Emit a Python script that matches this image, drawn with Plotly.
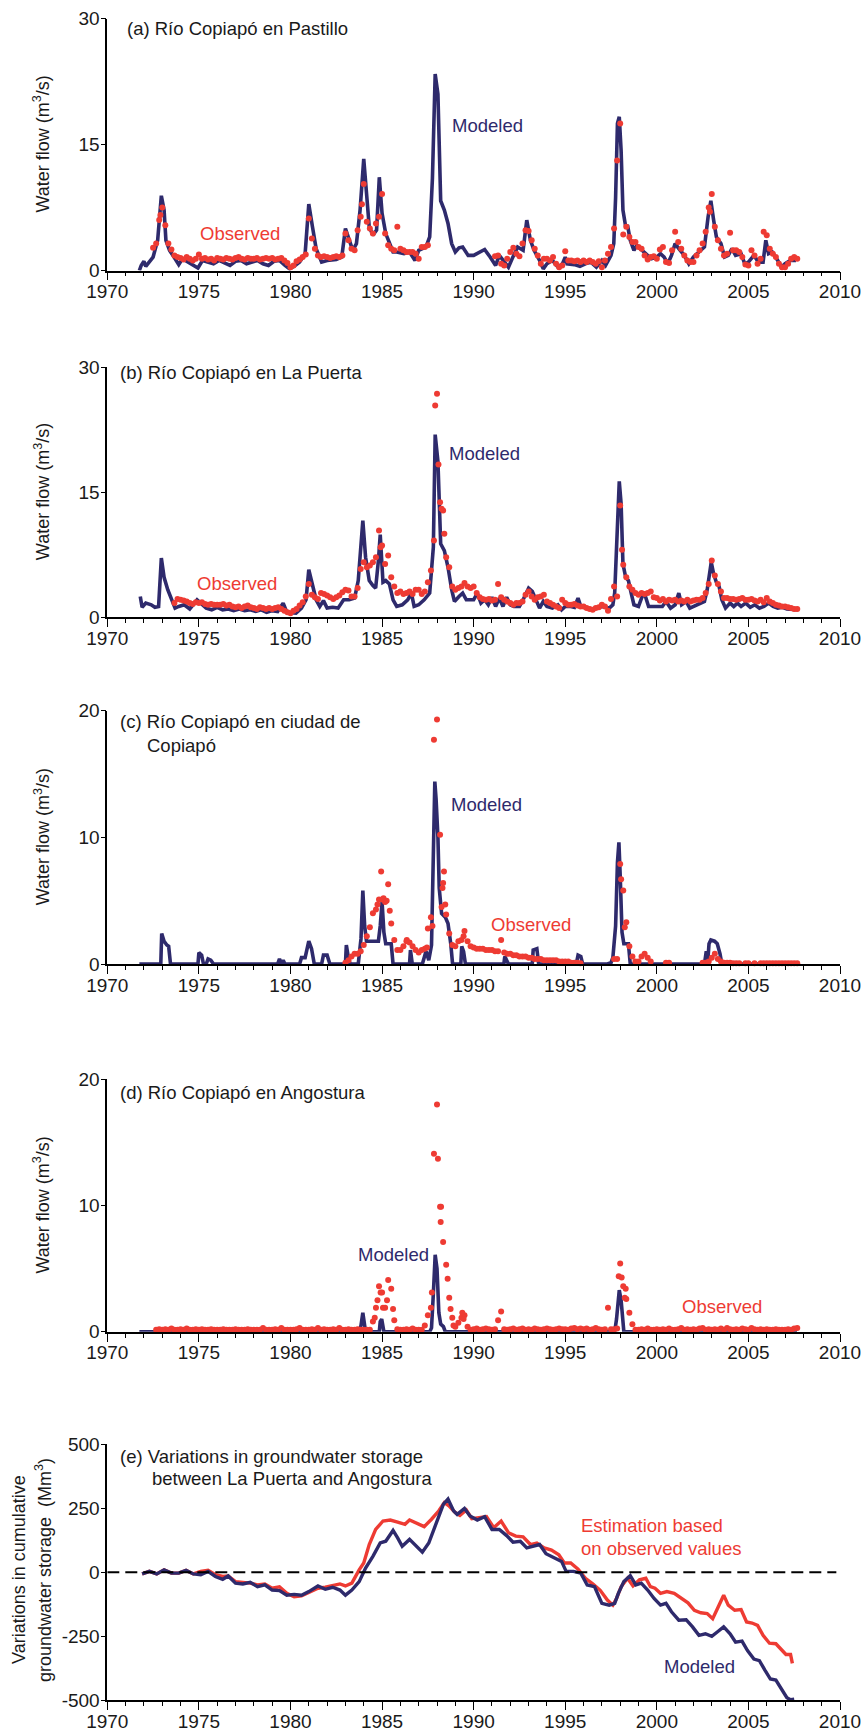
import plotly.graph_objects as go

W, H = 866, 1733
NAVY = "#2e2a6c"
RED = "#ee3b33"
FONT = "Liberation Sans, Arial, sans-serif"

# ---------------- Panel (a) Pastillo ----------------
mod_a_x = [1971.75, 1971.85, 1972.0, 1972.1, 1972.5, 1972.75, 1972.95, 1973.1, 1973.2, 1973.4, 1973.7, 1973.9,
           1974.1, 1974.4, 1974.7, 1974.95, 1975.2, 1975.5, 1975.8, 1976.1, 1976.4, 1976.7, 1977.0, 1977.3,
           1977.6, 1977.9, 1978.2, 1978.5, 1978.8, 1979.1, 1979.4, 1979.7, 1979.95, 1980.2, 1980.5, 1980.8,
           1981.0, 1981.2, 1981.4, 1981.7, 1982.0, 1982.5, 1982.8, 1983.0, 1983.2, 1983.4, 1983.6, 1983.8,
           1984.0, 1984.15, 1984.3, 1984.5, 1984.7, 1984.85, 1985.0, 1985.2, 1985.4, 1985.6, 1985.8, 1986.2,
           1986.5, 1986.8, 1987.0, 1987.4, 1987.6, 1987.75, 1987.9, 1988.05, 1988.2, 1988.4, 1988.6, 1988.8,
           1989.0, 1989.2, 1989.4, 1989.7, 1990.0, 1990.3, 1990.6, 1990.9, 1991.2, 1991.4, 1991.6, 1991.9,
           1992.1, 1992.4, 1992.7, 1992.9, 1993.1, 1993.3, 1993.6, 1993.8, 1994.0, 1994.3, 1994.6, 1994.85,
           1995.0, 1995.1, 1995.5, 1995.8, 1996.1, 1996.4, 1996.7, 1997.0, 1997.2, 1997.5, 1997.65, 1997.75,
           1997.85, 1997.95, 1998.05, 1998.15, 1998.3, 1998.4, 1998.55, 1998.75, 1998.9, 1999.1, 1999.4, 1999.7,
           2000.0, 2000.2, 2000.4, 2000.6, 2000.8, 2001.0, 2001.2, 2001.5, 2001.75, 2002.0, 2002.3, 2002.6,
           2002.8, 2002.95, 2003.1, 2003.25, 2003.5, 2003.7, 2003.9, 2004.1, 2004.3, 2004.6, 2004.8, 2005.0,
           2005.3, 2005.55, 2005.8, 2005.95, 2006.1, 2006.3, 2006.6, 2006.8, 2007.0, 2007.3, 2007.6]
mod_a_y = [0.0, 0.6, 1.1, 0.5, 1.6, 3.6, 8.9, 7.2, 3.6, 2.4, 1.4, 0.7,
           1.4, 1.0, 0.7, 0.3, 1.2, 1.0, 0.8, 1.2, 0.9, 0.6, 1.1, 1.2,
           0.8, 1.0, 1.2, 0.8, 0.6, 1.1, 1.2, 0.6, 0.2, 0.5, 1.0, 2.0,
           7.9, 5.2, 2.6, 1.0, 1.2, 1.3, 1.6, 5.0, 3.6, 2.4, 3.2, 7.2,
           13.3, 8.7, 5.2, 4.2, 4.8, 11.1, 6.8, 4.4, 3.2, 2.2, 2.2, 2.0,
           2.2, 1.2, 2.4, 2.8, 4.0, 11.0, 23.4, 21.0, 8.3, 7.2, 5.6, 3.2,
           2.2, 2.7, 2.8, 1.8, 1.8, 2.2, 2.5, 1.6, 0.6, 1.8, 1.2, 0.4,
           1.4, 2.8, 2.4, 6.0, 3.6, 2.4, 1.2, 0.2, 0.8, 1.2, 0.4, 0.8,
           1.6, 0.8, 0.7, 0.5, 0.8, 1.0, 0.4, 1.2, 0.6, 1.8, 3.2, 8.7,
           17.5, 18.3, 14.3, 7.2, 5.2, 5.4, 3.6, 2.4, 3.0, 2.6, 2.0, 1.4,
           1.6, 2.0, 1.6, 0.8, 1.8, 3.2, 2.6, 1.8, 0.8, 1.6, 2.2, 2.8,
           6.4, 8.3, 6.0, 4.0, 3.2, 1.6, 1.8, 2.6, 1.8, 2.0, 0.8, 1.0,
           1.8, 1.0, 1.0, 3.6, 2.0, 2.2, 1.2, 0.4, 0.8, 1.2, 1.2]

# observed, bimonthly from 1972.0 (6 values per year)
obs_a = [
    None, None, None, 2.7, 3.2, 6.0,    # 1972
    7.5, 5.4, 3.2, 2.5, 1.8, 1.6,       # 1973
    1.5, 1.3, 1.6, 1.4, 1.2, 1.4,       # 1974
    1.9, 1.4, 1.5, 1.3, 1.4, 1.2,       # 1975
    1.5, 1.4, 1.3, 1.5, 1.4, 1.3,       # 1976
    1.5, 1.6, 1.4, 1.3, 1.5, 1.4,       # 1977
    1.4, 1.5, 1.3, 1.4, 1.5, 1.4,       # 1978
    1.5, 1.3, 1.4, 1.5, 1.2, 0.9,       # 1979
    0.4, 0.6, 1.1, 1.3, 1.6, 1.9,       # 1980
    6.2, 3.8, 2.6, 1.8, 1.6, 1.7,       # 1981
    1.6, 1.5, 1.6, 1.7, 1.6, 1.8,       # 1982
    4.4, 3.6, 2.6, 2.4, 4.8, 6.4,       # 1983
    10.3, 5.8, 5.0, 4.4, 5.6, 6.4,      # 1984
    9.1, 4.4, 3.0, 2.6, 2.4, 5.2,       # 1985
    2.6, 2.4, 2.2, 2.2, 2.2, 2.0,       # 1986
    1.4, 2.8, 2.8, 3.0, None, None,     # 1987
    None, None, None, None, None, None, # 1988
    None, None, None, None, None, None, # 1989
    None, None, None, None, None, None, # 1990
    None, 1.7, 1.8, 0.8, 0.6, 1.4,      # 1991
    2.2, 2.7, 2.0, 1.7, 3.2, 4.8,       # 1992
    4.7, 3.6, 2.6, 1.8, 0.8, 1.4,       # 1993
    1.4, 1.2, 1.6, 0.8, 0.4, 0.6,       # 1994
    2.3, 1.2, 1.2, 1.1, 1.2, 1.0,       # 1995
    1.2, 1.0, 1.2, 1.0, 0.8, 1.1,       # 1996
    0.4, 1.2, 2.0, 2.8, 5.0, 13.1,      # 1997
    17.5, 4.3, 5.2, 4.0, 3.4, 3.4,      # 1998
    2.8, 2.6, 1.8, 1.3, 1.6, 1.7,       # 1999
    1.4, 2.5, 2.8, 1.0, 0.9, 2.4,       # 2000
    4.6, 3.4, 2.6, 1.8, 1.2, 1.0,       # 2001
    1.0, 1.8, 2.4, 3.2, 4.6, 7.5,       # 2002
    9.1, 5.2, 3.6, 2.6, 1.8, 2.0,       # 2003
    4.5, 2.4, 2.4, 2.2, 1.6, 0.7,       # 2004
    0.6, 2.4, 1.8, 0.8, 1.4, 4.6,       # 2005
    4.2, 2.6, 2.0, 1.6, 0.8, 0.4,       # 2006
    0.4, 0.8, 1.4, 1.6, 1.4, None,      # 2007
]
obs_a_ex_x = [1972.9, 1983.9, 2002.9]
obs_a_ex_y = [6.6, 7.9, 7.0]

# ---------------- Panel (b) La Puerta ----------------
mod_b_x = [1971.8, 1971.9, 1972.1, 1972.4, 1972.6, 1972.8, 1972.95, 1973.1, 1973.3, 1973.5, 1973.7, 1973.9,
           1974.2, 1974.5, 1974.7, 1974.9, 1975.1, 1975.4, 1975.7, 1976.0, 1976.3, 1976.6, 1976.9, 1977.2,
           1977.5, 1977.8, 1978.1, 1978.4, 1978.7, 1979.0, 1979.3, 1979.6, 1979.8, 1980.3, 1980.6, 1980.85,
           1981.0, 1981.2, 1981.4, 1981.6, 1981.8, 1982.0, 1982.3, 1982.6, 1982.9, 1983.2, 1983.5, 1983.7,
           1983.85, 1983.95, 1984.1, 1984.3, 1984.5, 1984.65, 1984.8, 1984.9, 1985.05, 1985.2, 1985.4, 1985.6,
           1985.8, 1986.1, 1986.4, 1986.6, 1986.75, 1987.0, 1987.3, 1987.6, 1987.8, 1987.9, 1988.05, 1988.2,
           1988.4, 1988.6, 1988.8, 1988.95, 1989.2, 1989.4, 1989.6, 1989.8, 1990.0, 1990.2, 1990.4, 1990.6,
           1990.8, 1991.0, 1991.2, 1991.4, 1991.6, 1991.8, 1992.0, 1992.2, 1992.5, 1992.7, 1992.85, 1993.0,
           1993.2, 1993.4, 1993.6, 1993.8, 1994.0, 1994.3, 1994.6, 1994.8, 1995.0, 1995.3, 1995.5, 1995.7,
           1995.85, 1996.2, 1996.5, 1996.8, 1997.1, 1997.4, 1997.6, 1997.7, 1997.8, 1997.9, 1997.95, 1998.05,
           1998.15, 1998.3, 1998.45, 1998.6, 1998.75, 1999.0, 1999.2, 1999.35, 1999.55, 1999.8, 2000.0, 2000.3,
           2000.5, 2000.75, 2001.0, 2001.2, 2001.35, 2001.6, 2001.8, 2002.0, 2002.3, 2002.6, 2002.75, 2002.9,
           2002.97, 2003.1, 2003.25, 2003.4, 2003.55, 2003.75, 2004.0, 2004.2, 2004.4, 2004.6, 2004.85, 2005.1,
           2005.35, 2005.6, 2005.85, 2006.1, 2006.35, 2006.6, 2006.85, 2007.1, 2007.4, 2007.65]
mod_b_y = [2.5, 1.2, 1.7, 1.5, 1.2, 1.3, 7.1, 4.8, 3.3, 2.1, 1.1, 1.3,
           1.5, 1.0, 1.5, 2.1, 1.7, 1.1, 0.9, 1.2, 0.9, 1.0, 0.8, 1.0,
           0.8, 0.9, 0.7, 0.9, 0.6, 0.8, 0.7, 1.7, 0.6, 0.5, 1.1, 2.1,
           5.7, 3.7, 2.1, 1.3, 2.0, 1.1, 1.2, 1.1, 2.1, 2.1, 2.3, 4.4,
           8.4, 11.6, 7.2, 4.4, 3.8, 3.5, 6.8, 9.9, 4.2, 4.4, 4.0, 2.1,
           1.3, 1.5, 2.1, 2.9, 1.3, 1.5, 2.1, 2.9, 8.4, 21.9, 18.7, 8.8,
           8.0, 6.0, 3.3, 1.9, 2.5, 2.9, 2.1, 2.1, 2.1, 2.9, 1.7, 2.1,
           1.5, 2.4, 1.3, 2.3, 1.3, 2.4, 1.5, 1.3, 1.3, 2.1, 2.7, 3.5,
           3.1, 2.1, 1.1, 1.9, 1.3, 1.1, 1.5, 0.9, 1.3, 1.3, 1.2, 2.3,
           1.3, 1.1, 1.0, 1.2, 1.3, 1.1, 1.5, 2.9, 8.4, 15.6, 16.3, 13.6,
           6.4, 4.8, 4.4, 2.9, 1.5, 1.3, 2.5, 2.7, 1.3, 1.3, 1.3, 1.3,
           1.9, 1.1, 1.5, 2.9, 1.5, 1.9, 1.1, 1.3, 1.7, 1.9, 3.3, 5.6,
           6.6, 5.2, 4.2, 3.7, 2.1, 1.1, 1.7, 1.3, 1.7, 1.3, 1.7, 1.2,
           1.5, 1.1, 1.3, 1.7, 1.3, 1.1, 1.2, 1.0, 1.0, 0.9]

obs_b = [
    None, None, None, None, None, None, # 1972
    None, None, None, None, 1.7, 2.2,   # 1973
    2.1, 2.0, 1.9, 1.7, 1.6, 1.8,       # 1974
    1.7, 1.8, 1.6, 1.5, 1.6, 1.5,       # 1975
    1.5, 1.5, 1.6, 1.4, 1.5, 1.3,       # 1976
    1.2, 1.3, 1.1, 1.3, 1.4, 1.2,       # 1977
    1.1, 1.0, 1.2, 1.1, 1.0, 1.1,       # 1978
    1.0, 1.1, 1.2, 1.0, 0.8, 0.6,       # 1979
    0.5, 0.8, 1.0, 1.4, 1.8, 2.5,       # 1980
    4.0, 2.7, 2.4, 2.2, 2.9, 2.8,       # 1981
    2.6, 2.4, 2.2, 2.4, 2.6, 3.0,       # 1982
    3.3, 3.2, 2.5, 2.5, 3.5, 5.8,       # 1983
    6.6, 6.0, 6.2, 6.6, 7.2, 10.4,      # 1984
    8.6, 6.4, 7.4, 4.8, 3.7, 2.9,       # 1985
    3.1, 2.8, 2.9, 3.1, 2.8, 3.3,       # 1986
    3.3, 2.8, 3.1, 4.2, 5.6, 9.2,       # 1987
    26.8, 13.8, 12.8, 7.2, 6.0, 3.7,    # 1988
    3.3, 3.5, 3.7, 4.1, 3.7, 3.5,       # 1989
    3.7, 2.9, 2.4, 2.2, 2.1, 2.2,       # 1990
    2.0, 2.1, 4.0, 2.4, 2.1, 1.9,       # 1991
    1.7, 1.5, 1.7, 1.7, 1.9, 2.7,       # 1992
    3.1, 2.5, 2.1, 2.4, 2.5, 2.7,       # 1993
    1.9, 1.7, 1.5, 1.3, 1.1, 2.1,       # 1994
    1.7, 1.5, 1.5, 1.6, 1.4, 1.3,       # 1995
    1.3, 1.1, 1.0, 0.9, 1.1, 1.2,       # 1996
    1.5, 1.3, 0.8, 2.2, 3.7, 2.5,       # 1997
    13.4, 6.3, 4.8, 3.7, 3.3, 2.9,      # 1998
    2.7, 2.9, 2.8, 2.9, 3.1, 2.4,       # 1999
    2.3, 2.0, 2.2, 1.9, 2.1, 2.0,       # 2000
    2.1, 1.9, 2.0, 1.9, 2.1, 1.9,       # 2001
    2.0, 2.1, 2.1, 2.3, 2.9, 4.0,       # 2002
    6.8, 5.0, 4.0, 3.1, 2.3, 2.3,       # 2003
    2.2, 2.2, 2.1, 2.2, 2.3, 2.1,       # 2004
    2.1, 2.2, 2.0, 1.9, 2.1, 1.8,       # 2005
    2.3, 1.9, 1.7, 1.5, 1.4, 1.3,       # 2006
    1.3, 1.2, 1.1, 1.0, 1.0, None,      # 2007
]
obs_b_ex_x = [1987.9, 1988.08, 1988.25, 1988.4, 1998.1, 1984.92]
obs_b_ex_y = [25.4, 18.3, 13.0, 10.0, 8.1, 8.4]

# ---------------- Panel (c) ciudad de Copiapó ----------------
mod_c_x = [1971.75, 1972.92, 1972.97, 1973.1, 1973.25, 1973.35, 1973.45, 1974.95, 1975.0, 1975.15, 1975.25,
           1975.4, 1975.5, 1975.65, 1975.8, 1979.3, 1979.4, 1979.5, 1979.6, 1979.7, 1980.5, 1980.6, 1980.8,
           1981.0, 1981.15, 1981.3, 1981.7, 1981.8, 1982.0, 1982.15, 1983.0, 1983.05, 1983.15, 1983.25,
           1983.7, 1983.85, 1983.95, 1984.05, 1984.15, 1984.8, 1984.9, 1985.0, 1985.1, 1985.2, 1985.5,
           1985.6, 1986.5, 1986.55, 1986.65, 1987.2, 1987.4, 1987.55, 1987.7, 1987.8, 1987.88, 1987.95,
           1988.05, 1988.12, 1988.25, 1988.45, 1988.6, 1988.75, 1988.85, 1989.3, 1989.35, 1989.45, 1989.55,
           1991.65, 1991.7, 1991.8, 1991.9, 1993.2, 1993.25, 1993.45, 1993.55, 1995.6, 1995.7, 1995.85,
           1995.95, 1997.3, 1997.5, 1997.6, 1997.75, 1997.85, 1997.93, 1998.0, 1998.1, 1998.2, 1998.45,
           1998.55, 2002.6, 2002.7, 2002.78, 2002.85, 2002.95, 2003.15, 2003.3, 2003.45, 2003.55, 2007.65]
mod_c_y = [0, 0, 2.4, 1.8, 1.5, 1.4, 0, 0, 0.9, 0.7, 0,
           0, 0.4, 0.3, 0, 0, 0.4, 0, 0.3, 0, 0, 0.5, 0.5,
           1.8, 1.2, 0, 0, 0.7, 0.7, 0, 0, 1.5, 0.6, 0,
           0, 2.0, 5.8, 3.0, 1.8, 1.8, 3.0, 4.9, 2.5, 1.6, 1.6,
           0, 0, 1.1, 0, 0, 1.0, 0.3, 1.5, 8.0, 14.4, 13.0,
           10.0, 6.0, 4.0, 3.7, 3.2, 1.6, 0, 0, 1.4, 1.0, 0,
           0, 0.6, 0.3, 0, 0, 1.1, 1.2, 0, 0, 0.7, 0.6,
           0, 0, 0.1, 0.5, 3.0, 8.0, 9.6, 7.0, 2.5, 1.6, 1.6,
           0, 0, 1.0, 0.2, 1.6, 1.9, 1.8, 1.6, 0.8, 0, 0]

obs_c = [None] * 66 + [
    0.1, 0.3, 0.6, 0.8, 0.8, 1.0,       # 1983
    1.5, 2.2, 2.9, 4.0, 4.3, 5.1,       # 1984
    5.1, 4.9, 6.3, 3.2, 1.9, 1.1,       # 1985
    1.1, 1.4, 1.8, 1.7, 1.4, 1.1,       # 1986
    0.9, 1.1, 1.2, 2.8, 3.7, 17.7,      # 1987
    19.3, 10.2, 6.4, 3.9, 2.4, 1.5,     # 1988
    1.4, 1.8, 1.9, 2.6, 1.8, 1.4,       # 1989
    1.3, 1.2, 1.2, 1.2, 1.1, 1.1,       # 1990
    1.1, 1.0, 1.0, 1.9, 0.9, 0.8,       # 1991
    0.8, 0.7, 0.7, 0.6, 0.6, 0.6,       # 1992
    0.5, 0.5, 0.4, 0.4, 0.4, 0.3,       # 1993
    0.3, 0.3, 0.3, 0.3, 0.2, 0.2,       # 1994
    0.2, 0.2, 0.1, 0.1, 0.1, 0.05,      # 1995
    None, None, None, None, None, None, # 1996
    None, None, None, None, 0.4, 0.4,   # 1997
    7.9, 5.8, 3.3, 1.4, 0.6, 0.2,       # 1998
    0.2, 0.6, 0.8, 0.5, 0.2, None,      # 1999
    None, None, None, 0.1, 0.1, None,   # 2000
    None, None, None, None, None, None, # 2001
    None, None, None, 0.1, 0.1, 0.2,    # 2002
    0.5, 0.8, 0.4, 0.2, 0.1, 0.1,       # 2003
    0.1, 0.05, 0.05, 0.05, None, 0.05,  # 2004
    0.05, None, 0.05, None, 0.05, 0.05, # 2005
    0.05, 0.05, 0.05, 0.05, 0.05, 0.05, # 2006
    0.05, 0.05, 0.05, 0.05, 0.05, None, # 2007
]
obs_c_ex_x = [1984.95, 1985.08, 1985.25, 1984.75, 1985.42, 1988.25, 1988.3, 1988.38, 1988.45,
              1987.75, 1998.05, 1998.25, 1989.45, 1987.45, 1986.35]
obs_c_ex_y = [7.3, 5.2, 5.0, 4.7, 4.2, 4.5, 6.0, 7.3, 4.7,
              3.0, 6.7, 2.9, 2.2, 1.3, 1.9]

# ---------------- Panel (d) Angostura ----------------
mod_d_x = [1971.75, 1983.75, 1983.85, 1983.95, 1984.05, 1984.1, 1984.85, 1984.9, 1984.98, 1985.05, 1985.1,
           1987.6, 1987.7, 1987.8, 1987.9, 1988.0, 1988.1, 1988.2, 1988.35, 1988.45, 1997.7, 1997.8,
           1997.9, 1997.95, 1998.05, 1998.15, 1998.2, 2007.65]
mod_d_y = [0, 0, 0.5, 1.5, 0.5, 0, 0, 0.8, 1.0, 0.3, 0,
           0, 0.3, 3.0, 6.1, 5.0, 1.5, 0.6, 0.4, 0, 0, 1.0,
           2.8, 3.3, 2.5, 0.5, 0, 0]

obs_d = [
    None, None, None, None, 0.15, 0.2,  # 1972
    0.15, 0.2, 0.15, 0.25, 0.15, 0.15,  # 1973
    0.2, 0.15, 0.25, 0.15, 0.15, 0.2,   # 1974
    0.15, 0.2, 0.15, 0.15, 0.2, 0.15,   # 1975
    0.15, 0.15, 0.2, 0.15, 0.15, 0.15,  # 1976
    0.2, 0.15, 0.15, 0.15, 0.2, 0.15,   # 1977
    0.15, 0.15, 0.15, 0.3, 0.15, 0.15,  # 1978
    0.15, 0.2, 0.15, 0.3, 0.15, 0.15,   # 1979
    0.15, 0.15, 0.2, 0.3, 0.15, 0.15,   # 1980
    0.15, 0.2, 0.15, 0.3, 0.15, 0.2,    # 1981
    0.15, 0.15, 0.2, 0.15, 0.3, 0.15,   # 1982
    0.15, 0.2, 0.15, 0.15, 0.2, 0.15,   # 1983
    0.15, 0.15, 0.15, 0.8, 1.9, 3.6,    # 1984
    3.1, 1.9, 4.1, 3.4, 0.9, 0.2,       # 1985
    0.15, 0.15, 0.2, 0.15, 0.25, 0.15,  # 1986
    0.15, 0.15, 0.5, 1.3, 1.9, 14.1,    # 1987
    18.0, 9.9, 7.1, 5.3, 2.7, 1.1,      # 1988
    0.4, 0.7, 1.1, 1.3, 0.4, 0.15,      # 1989
    0.2, 0.25, 0.15, 0.2, 0.25, 0.2,    # 1990
    0.15, 0.2, 0.9, 1.6, 0.2, 0.15,     # 1991
    0.2, 0.25, 0.15, 0.2, 0.25, 0.15,   # 1992
    0.2, 0.15, 0.25, 0.2, 0.15, 0.2,    # 1993
    0.25, 0.2, 0.15, 0.2, 0.25, 0.2,    # 1994
    0.2, 0.15, 0.25, 0.3, 0.2, 0.25,    # 1995
    0.2, 0.25, 0.15, 0.2, 0.3, 0.2,     # 1996
    0.15, 0.2, 1.9, 0.2, 0.2, 0.25,     # 1997
    5.4, 3.6, 2.6, 1.5, 0.6, 0.15,      # 1998
    0.15, 0.2, 0.15, 0.25, 0.15, 0.15,  # 1999
    0.2, 0.15, 0.2, 0.15, 0.25, 0.15,   # 2000
    0.15, 0.2, 0.3, 0.15, 0.2, 0.15,    # 2001
    0.2, 0.15, 0.25, 0.3, 0.15, 0.2,    # 2002
    0.15, 0.2, 0.15, 0.25, 0.15, 0.3,   # 2003
    0.2, 0.15, 0.2, 0.15, 0.25, 0.2,    # 2004
    0.15, 0.3, 0.2, 0.15, 0.2, 0.15,    # 2005
    0.2, 0.15, 0.15, 0.2, 0.15, 0.15,   # 2006
    0.15, 0.2, 0.15, 0.25, 0.3, None,   # 2007
]
obs_d_ex_x = [1984.6, 1984.75, 1984.92, 1985.05, 1985.27, 1985.6, 1987.72, 1988.05, 1988.22, 1988.2,
              1988.58, 1988.74, 1988.9, 1989.38, 1989.45, 1997.92, 1998.08, 1998.25, 1998.3]
obs_d_ex_y = [1.1, 2.5, 3.1, 1.9, 2.5, 1.8, 3.1, 13.7, 9.9, 8.7,
              4.2, 1.8, 0.5, 1.5, 1.0, 4.4, 4.3, 2.7, 3.4]

# ---------------- Panel (e) groundwater storage ----------------
mod_e_x = [1971.9, 1972.3, 1972.7, 1973.1, 1973.5, 1973.9, 1974.3, 1974.7, 1975.1, 1975.5, 1975.9, 1976.3,
           1976.6, 1977.0, 1977.4, 1977.8, 1978.2, 1978.6, 1979.0, 1979.4, 1979.8, 1980.2, 1980.6, 1981.0,
           1981.5, 1981.9, 1982.3, 1982.7, 1983.0, 1983.35, 1983.75, 1984.1, 1984.5, 1984.9, 1985.2, 1985.6,
           1985.85, 1986.1, 1986.5, 1986.8, 1987.2, 1987.55, 1987.8, 1988.1, 1988.35, 1988.6, 1988.9, 1989.1,
           1989.5, 1989.8, 1990.2, 1990.6, 1991.0, 1991.4, 1991.8, 1992.15, 1992.55, 1992.9, 1993.3, 1993.6,
           1993.95, 1994.4, 1994.8, 1995.05, 1995.45, 1995.85, 1996.2, 1996.6, 1997.0, 1997.4, 1997.7, 1997.9,
           1998.2, 1998.55, 1998.85, 1999.15, 1999.5, 1999.85, 2000.2, 2000.5, 2000.8, 2001.2, 2001.6, 2001.95,
           2002.3, 2002.65, 2003.0, 2003.3, 2003.65, 2004.0, 2004.3, 2004.65, 2004.95, 2005.3, 2005.6, 2005.9,
           2006.2, 2006.5, 2006.8, 2007.1, 2007.3, 2007.5]
mod_e_y = [-7, 3, -7, 9, -4, -4, 7, -7, -10, 3, -17, -28,
           -15, -43, -46, -40, -57, -50, -70, -72, -90, -87, -90, -76,
           -54, -67, -59, -70, -90, -70, -37, 16, 62, 114, 121, 163,
           134, 101, 128, 108, 78, 114, 160, 220, 266, 286, 240, 226,
           249, 220, 204, 217, 167, 167, 143, 117, 121, 95, 104, 108,
           72, 55, 42, 3, 3, -4, -50, -57, -122, -129, -122, -83,
           -37, -14, -50, -43, -70, -103, -129, -122, -155, -188, -186, -214,
           -247, -241, -251, -234, -214, -241, -274, -270, -307, -340, -346, -383,
           -418, -422, -458, -491, -499, -497]

est_e_x = [1971.9, 1972.3, 1972.7, 1973.1, 1973.5, 1973.9, 1974.3, 1974.7, 1975.1, 1975.5, 1975.9, 1976.3,
           1976.6, 1977.0, 1977.4, 1977.8, 1978.2, 1978.6, 1979.0, 1979.4, 1979.8, 1980.2, 1980.6, 1981.0,
           1981.5, 1981.9, 1982.3, 1982.7, 1983.0, 1983.35, 1983.75, 1984.0, 1984.3, 1984.65, 1985.05, 1985.45,
           1985.85, 1986.25, 1986.5, 1986.9, 1987.3, 1987.7, 1988.1, 1988.4, 1988.65, 1989.0, 1989.25, 1989.6,
           1989.9, 1990.3, 1990.7, 1991.1, 1991.5, 1991.9, 1992.3, 1992.7, 1993.1, 1993.45, 1993.85, 1994.25,
           1994.65, 1994.95, 1995.3, 1995.7, 1996.1, 1996.5, 1996.9, 1997.3, 1997.6, 1997.8, 1998.05, 1998.4,
           1998.7, 1999.05, 1999.4, 1999.65, 1999.9, 2000.2, 2000.55, 2000.95, 2001.35, 2001.7, 2002.05, 2002.4,
           2002.75, 2003.05, 2003.35, 2003.65, 2003.9, 2004.25, 2004.6, 2004.9, 2005.2, 2005.5, 2005.8, 2006.15,
           2006.5, 2006.8, 2007.05, 2007.3, 2007.4]
est_e_y = [-7, 3, -7, 9, -4, -4, 7, -7, 3, 7, -10, -17,
           -15, -37, -40, -43, -50, -46, -63, -57, -83, -96, -93, -80,
           -63, -59, -54, -46, -54, -43, 9, 36, 108, 167, 200, 204,
           196, 187, 204, 191, 178, 207, 240, 272, 259, 233, 222, 243,
           209, 213, 217, 174, 200, 154, 141, 138, 108, 114, 95, 86,
           68, 36, 36, 12, -24, -46, -70, -109, -129, -103, -57, -24,
           -54, -30, -24, -57, -63, -83, -76, -83, -103, -120, -149, -159,
           -162, -182, -136, -90, -129, -149, -146, -195, -199, -208, -247, -278,
           -280, -304, -322, -322, -357]

x_ticks = [1970, 1975, 1980, 1985, 1990, 1995, 2000, 2005, 2010]


def grid_x(vals, start=1972.0):
    return [start + k / 6 for k in range(len(vals))]


# --------- layout geometry (pixels) ---------
X0, X1 = 107.3, 840.0
panels = [
    # (top px, bottom px, range, tickvals, ticktext)
    (18.5, 270.5, [0, 30], [0, 15, 30], ["0", "15", "30"]),
    (367.0, 617.3, [0, 30], [0, 15, 30], ["0", "15", "30"]),
    (710.7, 964.0, [0, 20], [0, 10, 20], ["0", "10", "20"]),
    (1079.3, 1331.7, [0, 20], [0, 10, 20], ["0", "10", "20"]),
    (1444.3, 1700.0, [-500, 500], [-500, -250, 0, 250, 500], ["-500", "-250", "0", "250", "500"]),
]

fig = go.Figure()

flow = [
    (mod_a_x, mod_a_y, obs_a, obs_a_ex_x, obs_a_ex_y),
    (mod_b_x, mod_b_y, obs_b, obs_b_ex_x, obs_b_ex_y),
    (mod_c_x, mod_c_y, obs_c, obs_c_ex_x, obs_c_ex_y),
    (mod_d_x, mod_d_y, obs_d, obs_d_ex_x, obs_d_ex_y),
]

for i, (mx, my, ob, exx, exy) in enumerate(flow, start=1):
    xa, ya = f"x{i}", f"y{i}"
    fig.add_trace(go.Scatter(x=mx, y=my, mode="lines", line=dict(color=NAVY, width=3.6),
                             xaxis=xa, yaxis=ya, cliponaxis=False, showlegend=False))
    ox = grid_x(ob) + exx
    oy = ob + exy
    fig.add_trace(go.Scatter(x=ox, y=oy, mode="markers", marker=dict(color=RED, size=6, line=dict(width=0)),
                             xaxis=xa, yaxis=ya, cliponaxis=False, showlegend=False))

fig.add_trace(go.Scatter(x=est_e_x, y=est_e_y, mode="lines", line=dict(color=RED, width=3.4),
                         xaxis="x5", yaxis="y5", cliponaxis=False, showlegend=False))
fig.add_trace(go.Scatter(x=mod_e_x, y=mod_e_y, mode="lines", line=dict(color=NAVY, width=3.4),
                         xaxis="x5", yaxis="y5", cliponaxis=False, showlegend=False))

layout = dict(
    width=W, height=H,
    margin=dict(l=0, r=0, t=0, b=0),
    paper_bgcolor="white", plot_bgcolor="white",
    font=dict(family=FONT, size=17, color="#1a1a1a"),
    showlegend=False,
)

for i, (top, bot, rng, tv, tt) in enumerate(panels, start=1):
    layout[f"xaxis{i}"] = dict(
        domain=[X0 / W, X1 / W], range=[1970, 2010], anchor=f"y{i}",
        tickmode="array", tickvals=x_ticks, ticktext=[str(v) for v in x_ticks],
        ticks="outside", ticklen=8, tickwidth=1.4, tickcolor="black",
        ticklabelstandoff=-5,
        minor=dict(tickmode="linear", tick0=1970, dtick=1, ticks="outside", ticklen=4,
                   tickwidth=1.2, tickcolor="black", showgrid=False),
        showline=True, linecolor="black", linewidth=1.6,
        showgrid=False, zeroline=False, automargin=False,
        tickfont=dict(size=19, family=FONT, color="#1a1a1a"),
    )
    layout[f"yaxis{i}"] = dict(
        domain=[1 - bot / H, 1 - top / H], range=rng, anchor=f"x{i}",
        tickmode="array", tickvals=tv, ticktext=tt,
        ticks="outside", ticklen=5, tickwidth=1.4, tickcolor="black",
        ticklabelstandoff=-3,
        showline=True, linecolor="black", linewidth=1.6,
        showgrid=False, zeroline=False, automargin=False,
        tickfont=dict(size=19, family=FONT, color="#1a1a1a"),
    )

fig.update_layout(**layout)

# dashed zero line in panel (e)
fig.add_shape(type="line", xref="x5", yref="y5", x0=1970, x1=2009.8, y0=0, y1=0,
              line=dict(color="black", width=2, dash="12px,6px"))


def ann(text, px, py, color="#1a1a1a", size=18.5, anchor="left", angle=0):
    fig.add_annotation(text=text, x=px / W, y=1 - py / H, xref="paper", yref="paper",
                       xanchor=anchor, yanchor="middle", showarrow=False, textangle=angle,
                       font=dict(size=size, color=color, family=FONT))


# panel titles
ann("(a) Río Copiapó en Pastillo", 125, 28)
ann("(b) Río Copiapó en La Puerta", 118, 372)
ann("(c) Río Copiapó en ciudad de", 118, 722)
ann("Copiapó", 145, 745)
ann("(d) Río Copiapó en Angostura", 118, 1092)
ann("(e) Variations in groundwater storage", 118, 1456)
ann("between La Puerta and Angostura", 150, 1478)

# series labels
ann("Modeled", 450, 125, NAVY)
ann("Observed", 198, 234, RED)
ann("Modeled", 447, 454, NAVY)
ann("Observed", 195, 583, RED)
ann("Modeled", 449, 804, NAVY)
ann("Observed", 489, 924, RED)
ann("Modeled", 356, 1254, NAVY)
ann("Observed", 680, 1306, RED)
ann("Estimation based", 579, 1525, RED)
ann("on observed values", 579, 1548, RED)
ann("Modeled", 662, 1666, NAVY)

# y-axis titles
for top, bot, *_ in panels[:4]:
    ann("Water flow (m<sup>3</sup>/s)", 42, (top + bot) / 2, size=18, anchor="center", angle=-90)
ann("Variations in cumulative", 19, 1570, size=18, anchor="center", angle=-90)
ann("groundwater storage  (Mm<sup>3</sup>)", 43, 1570, size=18, anchor="center", angle=-90)

fig.write_html("out.html", config={"displayModeBar": False},
               post_script="document.body.style.margin='0';document.body.style.overflow='hidden';")
